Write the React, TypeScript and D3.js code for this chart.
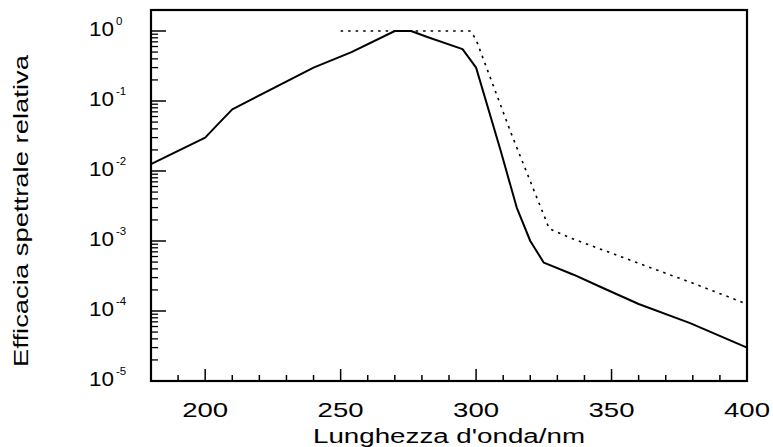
import React from "react";
import * as d3 from "d3";

const solidWl = [180, 200, 205, 210, 240, 254, 270, 276, 282, 295, 300, 309, 315, 320, 325, 336, 346, 360, 379, 400];
const solidVal = [0.0125, 0.03, 0.048, 0.076, 0.3, 0.5, 1.0, 1.0, 0.82, 0.55, 0.3, 0.02, 0.003, 0.001, 4.9e-4, 3.3e-4, 2.2e-4, 1.26e-4, 6.7e-5, 3.0e-5];
const dotWl = [250, 298, 300, 313, 327, 335, 345, 360, 380, 399];
const dotVal = [1, 1, 0.75, 0.034, 0.0015, 0.0011, 7.9e-4, 4.8e-4, 2.5e-4, 1.3e-4];
const xTickLabels = [200, 250, 300, 350, 400];
const yExponents = [0, -1, -2, -3, -4, -5];

const W = 773, H = 447;
const L = 151, R = 747, T = 10, B = 381;

export default function App() {
  const x = d3.scaleLinear().domain([180, 400]).range([L, R]);
  const y = d3.scaleLog().domain([1e-5, Math.pow(10, 0.3)]).range([B, T]);
  const line = d3.line<[number, number]>().x(d => x(d[0])).y(d => y(d[1]));
  const solid = solidWl.map((w, i) => [w, solidVal[i]] as [number, number]);
  const dotted = dotWl.map((w, i) => [w, dotVal[i]] as [number, number]);

  const xMinor = d3.range(190, 400, 10).filter(v => v % 50 !== 0);
  const yMinor: number[] = [];
  for (let e = -5; e <= 0; e++) {
    for (let m = 2; m <= 9; m++) {
      const v = m * Math.pow(10, e);
      if (v < Math.pow(10, 0.3)) yMinor.push(v);
    }
  }
  const font = "'Liberation Sans', Arial, sans-serif";

  return (
    <svg width={W} height={H} style={{ position: "absolute", left: 0, top: 0, background: "#fff" }}>
      <rect x={0} y={0} width={W} height={H} fill="#fff" />
      {/* x ticks */}
      {xTickLabels.map(v => (
        <line key={"xM" + v} x1={x(v)} x2={x(v)} y1={B} y2={B - 12} stroke="#000" strokeWidth={1.5} />
      ))}
      {xMinor.map(v => (
        <line key={"xm" + v} x1={x(v)} x2={x(v)} y1={B} y2={B - 6} stroke="#000" strokeWidth={1.5} />
      ))}
      {/* y ticks */}
      {yExponents.map(e => (
        <line key={"yM" + e} x1={L} x2={L + 15} y1={y(Math.pow(10, e))} y2={y(Math.pow(10, e))} stroke="#000" strokeWidth={1.5} />
      ))}
      {yMinor.map((v, i) => (
        <line key={"ym" + i} x1={L} x2={L + 7} y1={y(v)} y2={y(v)} stroke="#000" strokeWidth={1.3} />
      ))}
      {/* frame */}
      <rect x={L} y={T} width={R - L} height={B - T} fill="none" stroke="#000" strokeWidth={2.2} />
      {/* lines */}
      <path d={line(solid) || ""} fill="none" stroke="#000" strokeWidth={2} strokeLinejoin="round" />
      <path d={line(dotted) || ""} fill="none" stroke="#000" strokeWidth={1.6} strokeDasharray="2.5,5" />
      {/* x labels */}
      {xTickLabels.map(v => (
        <text key={"xl" + v} x={x(v) - 23} y={417} fontFamily={font} fontSize={21} textLength={46} lengthAdjust="spacingAndGlyphs">{v}</text>
      ))}
      <text x={313} y={443} fontFamily={font} fontSize={19.5} textLength={272} lengthAdjust="spacingAndGlyphs">Lunghezza d'onda/nm</text>
      {/* y labels */}
      {yExponents.map(e => {
        const yy = y(Math.pow(10, e));
        return (
          <g key={"yl" + e}>
            <text x={89} y={yy + 5} fontFamily={font} fontSize={19.5} textLength={25} lengthAdjust="spacingAndGlyphs">10</text>
            <text x={116} y={yy - 6} fontFamily={font} fontSize={11.5}>{e === 0 ? "0" : "-" + Math.abs(e)}</text>
          </g>
        );
      })}
      <g transform="translate(28,211) rotate(-90)">
        <text x={-156} y={0} fontFamily={font} fontSize={19.5} textLength={312} lengthAdjust="spacingAndGlyphs">Efficacia spettrale relativa</text>
      </g>
    </svg>
  );
}
